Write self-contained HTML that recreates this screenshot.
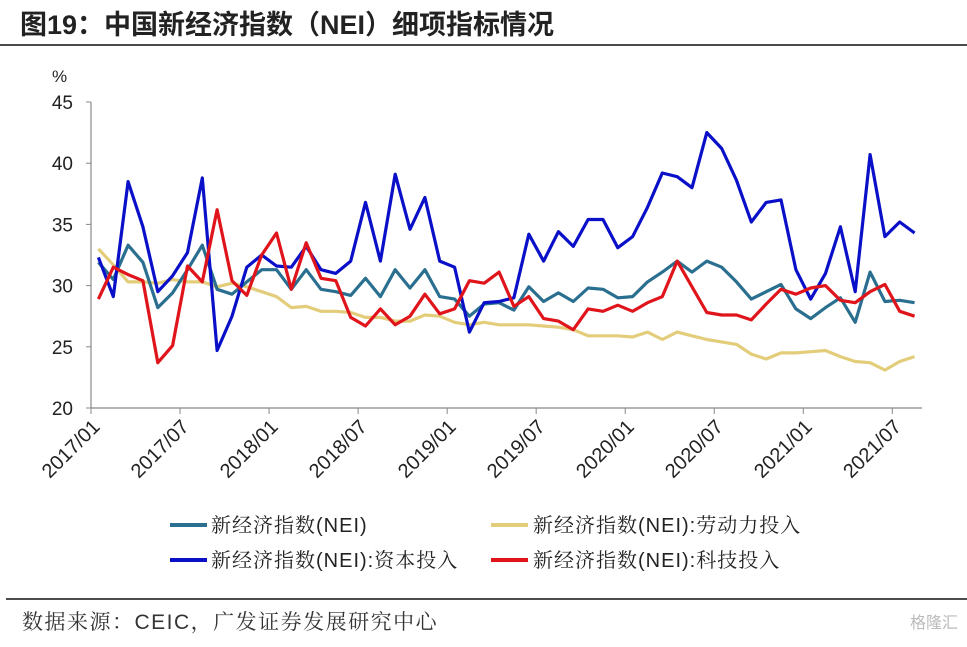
<!DOCTYPE html>
<html><head><meta charset="utf-8"><style>
body{margin:0;background:#fff;width:967px;height:642px;overflow:hidden;font-family:"Liberation Sans","Noto Sans CJK SC",sans-serif}
</style></head><body>
<svg width="967" height="642" viewBox="0 0 967 642">
<text x="20" y="34" font-size="27" font-weight="bold" fill="#222" font-family="Liberation Sans, Noto Sans CJK SC, sans-serif">图19：中国新经济指数（NEI）细项指标情况</text>
<line x1="0" y1="45" x2="967" y2="45" stroke="#111" stroke-width="1.5"/>
<text x="52" y="82" font-size="17" fill="#222">%</text>
<g id="axes"></g>
<g id="series"></g>
<g font-size="20" fill="#222" font-family="Liberation Sans, Noto Serif CJK SC, serif" letter-spacing="1">
<g><line x1="170" y1="525" x2="207" y2="525" stroke="#2a6f8f" stroke-width="4"/><text x="211" y="532">新经济指数(NEI)</text></g>
<g><line x1="491" y1="525" x2="528" y2="525" stroke="#e3cd7a" stroke-width="4"/><text x="533" y="532">新经济指数(NEI):劳动力投入</text></g>
<g><line x1="170" y1="560" x2="207" y2="560" stroke="#0a10c8" stroke-width="4"/><text x="211" y="567">新经济指数(NEI):资本投入</text></g>
<g><line x1="491" y1="560" x2="528" y2="560" stroke="#e0141b" stroke-width="4"/><text x="533" y="567">新经济指数(NEI):科技投入</text></g>
</g>
<line x1="6" y1="599" x2="967" y2="599" stroke="#111" stroke-width="1.5"/>
<text x="22" y="629" font-size="21" fill="#333" letter-spacing="1.5" font-family="Liberation Sans, Noto Serif CJK SC, serif">数据来源：CEIC，广发证券发展研究中心</text>
<text x="910" y="628" font-size="16" fill="#bbb" font-family="Liberation Sans, Noto Sans CJK SC, sans-serif">格隆汇</text>
</svg>
<script>
const yTicks=[20,25,30,35,40,45];
const xTickLabels=["2017/01","2017/07","2018/01","2018/07","2019/01","2019/07","2020/01","2020/07","2021/01","2021/07"];
const nei=[31.9,30.5,33.3,31.9,28.2,29.4,31.3,33.3,29.7,29.3,30.3,31.3,31.3,29.7,31.3,29.7,29.5,29.2,30.6,29.1,31.3,29.8,31.3,29.1,28.9,27.5,28.5,28.6,28.0,29.9,28.7,29.4,28.7,29.8,29.7,29.0,29.1,30.3,31.1,32.0,31.1,32.0,31.5,30.3,28.9,29.5,30.1,28.1,27.3,28.2,29.0,27.0,31.1,28.7,28.8,28.6];
const labor=[33.0,31.7,30.3,30.3,30.2,30.5,30.3,30.3,29.9,30.2,29.9,29.5,29.1,28.2,28.3,27.9,27.9,27.8,27.4,27.4,27.1,27.1,27.6,27.5,27.0,26.8,27.0,26.8,26.8,26.8,26.7,26.6,26.4,25.9,25.9,25.9,25.8,26.2,25.6,26.2,25.9,25.6,25.4,25.2,24.4,24.0,24.5,24.5,24.6,24.7,24.2,23.8,23.7,23.1,23.8,24.2];
const capital=[32.3,29.1,38.5,34.8,29.5,30.8,32.7,38.8,24.7,27.5,31.5,32.5,31.6,31.5,33.2,31.3,31.0,32.0,36.8,32.0,39.1,34.6,37.2,32.0,31.5,26.2,28.6,28.7,29.0,34.2,32.0,34.4,33.2,35.4,35.4,33.1,34.0,36.4,39.2,38.9,38.0,42.5,41.2,38.6,35.2,36.8,37.0,31.3,28.9,31.0,34.8,29.5,40.7,34.0,35.2,34.3];
const tech=[28.9,31.5,30.9,30.4,23.7,25.1,31.6,30.3,36.2,30.4,29.2,32.5,34.3,29.7,33.5,30.6,30.4,27.4,26.7,28.1,26.8,27.5,29.3,27.7,28.1,30.4,30.2,31.1,28.3,29.1,27.3,27.1,26.4,28.1,27.9,28.4,27.9,28.6,29.1,32.0,29.9,27.8,27.6,27.6,27.2,28.5,29.7,29.3,29.8,30.0,28.8,28.6,29.5,30.1,27.9,27.5];
const NS="http://www.w3.org/2000/svg";
const X0=91,X1=922,Y0=408,Y1=102,N=56,step=(X1-X0)/N;
function xs(i){return X0+step*(i+0.5);}
function ys(v){return Y0-(v-20)/(45-20)*(Y0-Y1);}
const ax=document.getElementById('axes');
function mk(t,a,p){const e=document.createElementNS(NS,t);for(const k in a)e.setAttribute(k,a[k]);p.appendChild(e);return e;}
let yl=mk('line',{x1:X0,y1:Y1,x2:X0,y2:Y0,stroke:'#888','stroke-width':1.2},ax);


let xl=mk('line',{x1:X0,y1:Y0,x2:X1,y2:Y0,stroke:'#888','stroke-width':1.2},ax);


yTicks.forEach(v=>{
 const y=ys(v);
 mk('line',{x1:X0-5,y1:y,x2:X0,y2:y,stroke:'#888'},ax);
 const t=mk('text',{x:X0-18,y:y+7,'text-anchor':'end','font-size':19,fill:'#222'},ax);
 t.textContent=v;
 
 
});
xTickLabels.forEach((s,k)=>{
 const x=X0+k*6*step;
 mk('line',{x1:x,y1:Y0,x2:x,y2:Y0+6,stroke:'#888'},ax);
 const ax2=x+10,ay=Y0+20;
 const t=mk('text',{x:ax2,y:ay,'text-anchor':'end','font-size':20,fill:'#222',transform:`rotate(-45 ${ax2} ${ay})`},ax);
 t.textContent=s;
 
 
});
const sg=document.getElementById('series');
[[labor,'#e3cd7a','series-labor'],[nei,'#2a6f8f','series-nei'],[capital,'#0a10c8','series-capital'],[tech,'#e0141b','series-tech']].forEach(([d,c,n])=>{
 const p=mk('polyline',{points:d.map((v,i)=>xs(i).toFixed(1)+','+ys(v).toFixed(1)).join(' '),fill:'none',stroke:c,'stroke-width':3.2,'stroke-linejoin':'round'},sg);
 
 
});
</script>
</body></html>
